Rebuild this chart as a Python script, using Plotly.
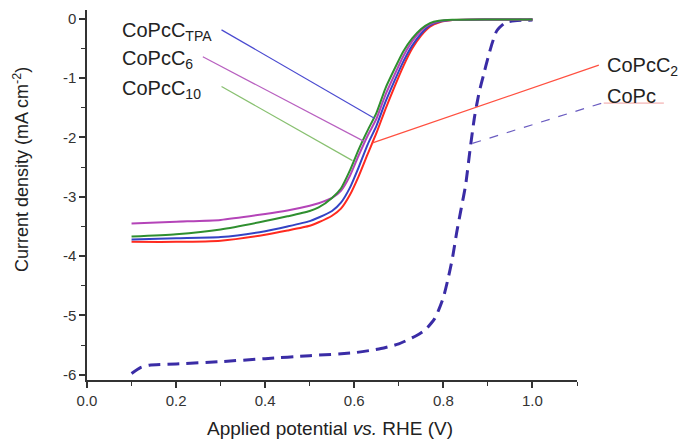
import plotly.graph_objects as go

# Linear sweep voltammetry, current density vs. applied potential
potential = [0.10, 0.20, 0.30, 0.40, 0.45, 0.50, 0.52, 0.55, 0.57, 0.59, 0.61, 0.63, 0.65,
             0.67, 0.69, 0.71, 0.73, 0.75, 0.77, 0.79, 0.82, 0.90, 1.00]

j_c2 = [-3.76, -3.76, -3.74, -3.64, -3.57, -3.49, -3.43, -3.32, -3.20, -2.97, -2.65, -2.28, -1.92,
        -1.52, -1.15, -0.80, -0.50, -0.28, -0.13, -0.06, -0.02, -0.01, -0.01]
j_tpa = [-3.72, -3.70, -3.68, -3.58, -3.50, -3.41, -3.35, -3.24, -3.10, -2.85, -2.50, -2.12, -1.80,
         -1.40, -1.05, -0.72, -0.45, -0.25, -0.11, -0.05, -0.02, -0.01, -0.01]
j_c6 = [-3.45, -3.42, -3.39, -3.29, -3.23, -3.15, -3.11, -3.02, -2.90, -2.65, -2.30, -1.97, -1.68,
        -1.28, -0.95, -0.63, -0.38, -0.20, -0.09, -0.04, -0.02, -0.01, -0.01]
j_c10 = [-3.67, -3.63, -3.55, -3.41, -3.33, -3.24, -3.18, -3.02, -2.86, -2.56, -2.20, -1.88, -1.58,
         -1.17, -0.85, -0.55, -0.33, -0.17, -0.07, -0.03, -0.015, -0.01, -0.01]

potential_copc = [0.10, 0.12, 0.14, 0.20, 0.30, 0.40, 0.50, 0.60, 0.66, 0.70, 0.74, 0.76, 0.78,
                  0.79, 0.80, 0.81, 0.82, 0.83, 0.84, 0.85, 0.86, 0.87, 0.88, 0.89, 0.90, 0.91,
                  0.92, 0.94, 0.96, 1.00]
j_copc = [-5.98, -5.88, -5.84, -5.82, -5.78, -5.73, -5.68, -5.63, -5.56, -5.48, -5.34, -5.24, -5.06,
          -4.90, -4.70, -4.40, -4.05, -3.60, -3.20, -2.80, -2.20, -1.65, -1.25, -0.95, -0.66, -0.40,
          -0.20, -0.06, -0.03, -0.02]

x_ticks = [0.0, 0.2, 0.4, 0.6, 0.8, 1.0]
x_tick_text = ["0.0", "0.2", "0.4", "0.6", "0.8", "1.0"]
y_ticks = [0, -1, -2, -3, -4, -5, -6]
y_tick_text = ["0", "-1", "-2", "-3", "-4", "-5", "-6"]

X_RANGE = [0.0, 1.1]
Y_RANGE = [-6.09, 0.15]

C_RED = "#ff2a1f"
C_BLUE = "#3443c4"
C_MAG = "#b444b8"
C_GREEN = "#2f8f2f"
C_COPC = "#3a2ca6"

FONT = "Liberation Sans, Arial, sans-serif"

fig = go.Figure()
fig.add_trace(go.Scatter(x=potential_copc, y=j_copc, mode="lines", name="CoPc",
                         line=dict(color=C_COPC, width=3, dash="12px,7px",
                                   shape="spline", smoothing=0.6)))
for name, ys, col in [("CoPcC2", j_c2, C_RED), ("CoPcCTPA", j_tpa, C_BLUE),
                      ("CoPcC6", j_c6, C_MAG), ("CoPcC10", j_c10, C_GREEN)]:
    fig.add_trace(go.Scatter(x=potential, y=ys, mode="lines", name=name,
                             line=dict(color=col, width=2, shape="spline", smoothing=0.6)))


def to_paper(x, y):
    px = (x - X_RANGE[0]) / (X_RANGE[1] - X_RANGE[0])
    py = (y - Y_RANGE[0]) / (Y_RANGE[1] - Y_RANGE[0])
    return px, py


# leader lines from labels to curves: (x0, y0, x1, y1, colour, dash)
leaders = [
    (0.302, -0.185, 0.645, -1.675, "#4a4ad0", "solid"),
    (0.260, -0.640, 0.623, -2.070, "#b860c0", "solid"),
    (0.302, -1.140, 0.596, -2.390, "#88c070", "solid"),
    (0.641, -2.090, 1.149, -0.780, "#ff5040", "solid"),
    (0.865, -2.100, 1.156, -1.420, "#6a5cc0", "dash"),
]
for x0, y0, x1, y1, col, dash in leaders:
    p0 = to_paper(x0, y0)
    p1 = to_paper(x1, y1)
    fig.add_shape(type="line", xref="paper", yref="paper",
                  x0=p0[0], y0=p0[1], x1=p1[0], y1=p1[1],
                  line=dict(color=col, width=1.2, dash=dash))

# faint underline beneath the CoPc label
u0 = to_paper(1.160, -1.42)
u1 = to_paper(1.295, -1.42)
fig.add_shape(type="line", xref="paper", yref="paper", x0=u0[0], y0=u0[1], x1=u1[0], y1=u1[1],
              line=dict(color="#f0a0a0", width=1))

label_font = dict(family=FONT, size=20, color="#222222")
labels = [
    ("CoPcC<sub>TPA</sub>", 0.074, -0.22),
    ("CoPcC<sub>6</sub>", 0.074, -0.69),
    ("CoPcC<sub>10</sub>", 0.074, -1.19),
    ("CoPcC<sub>2</sub>", 1.162, -0.81),
    ("CoPc", 1.162, -1.30),
]
for txt, lx, ly in labels:
    px, py = to_paper(lx, ly)
    fig.add_annotation(text=txt, x=px, y=py, xref="paper", yref="paper", xanchor="left",
                       yanchor="middle", showarrow=False, font=label_font)

fig.add_annotation(text="Applied potential <i>vs.</i> RHE (V)", x=0.495, y=-0.13,
                   xref="paper", yref="paper", showarrow=False, xanchor="center",
                   yanchor="middle", font=dict(family=FONT, size=19, color="#222222"))
fig.add_annotation(text="Current density (mA cm<sup>-2</sup>)", x=-0.135, y=0.57,
                   xref="paper", yref="paper", showarrow=False, textangle=-90,
                   xanchor="center", yanchor="middle",
                   font=dict(family=FONT, size=18, color="#222222"))

axis_font = dict(family=FONT, size=15, color="#333333")
axis_common = dict(showgrid=False, zeroline=False, showline=True, linecolor="#333333",
                   linewidth=1.5, ticks="outside", ticklen=6, tickwidth=1.5,
                   tickcolor="#333333", tickfont=axis_font)

fig.update_layout(
    width=681, height=440,
    margin=dict(l=87, r=104, t=10, b=60),
    paper_bgcolor="white", plot_bgcolor="white",
    showlegend=False,
    xaxis=dict(range=X_RANGE, tickvals=x_ticks, ticktext=x_tick_text, **axis_common,
               minor=dict(tickvals=[0.1, 0.3, 0.5, 0.7, 0.9, 1.1], ticks="outside",
                          ticklen=4, tickwidth=1.2, tickcolor="#333333")),
    yaxis=dict(range=Y_RANGE, tickvals=y_ticks, ticktext=y_tick_text, **axis_common,
               minor=dict(tickvals=[-0.5, -1.5, -2.5, -3.5, -4.5, -5.5], ticks="outside",
                          ticklen=4, tickwidth=1.2, tickcolor="#333333")),
)

fig.write_html("out.html")
